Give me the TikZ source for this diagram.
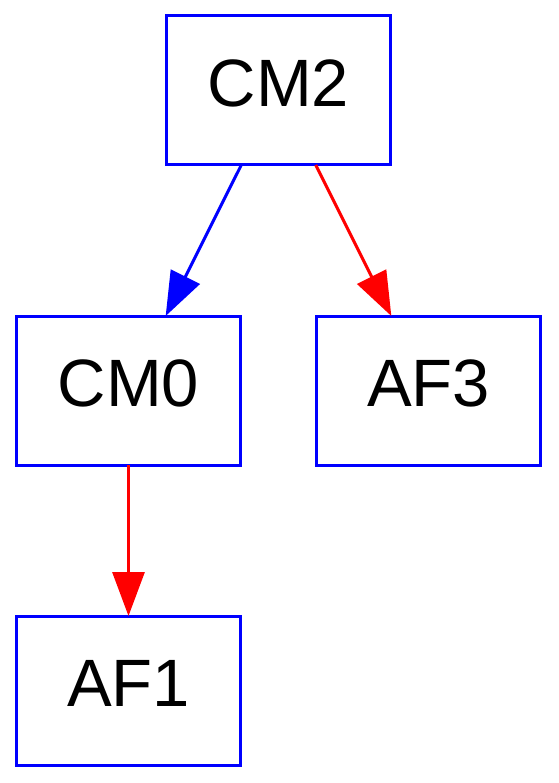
\documentclass[tikz,border=0pt]{standalone}
\usepackage{fontspec}
\setmainfont{Liberation Sans}
\usetikzlibrary{arrows.meta, positioning}

\begin{document}
\begin{tikzpicture}[
  x=1pt, y=1pt,
  box/.style={rectangle, draw=blue, line width=3pt, outer sep=0pt,
              minimum width=224pt, minimum height=149pt, text depth=15pt,
              font=\fontsize{67}{80}\selectfont},
  arrow/.style={-{Triangle[length=44pt, width=32pt]}, line width=3pt},
  node distance=151pt
]
\useasboundingbox (0,0) rectangle (558,-783);
\node[box] (cm2) at (278.5,-90.5) {CM2};
\node[box] (cm0) at (128.5,-390.5) {CM0};
\node[box, right=76pt of cm0] (af3) {AF3};
\node[box, below=of cm0] (af1) {AF1};
\draw[arrow, blue] (cm2) -- (cm0);
\draw[arrow, red] (cm2) -- (af3);
\draw[arrow, red] (cm0) -- (af1);
\end{tikzpicture}
\end{document}
